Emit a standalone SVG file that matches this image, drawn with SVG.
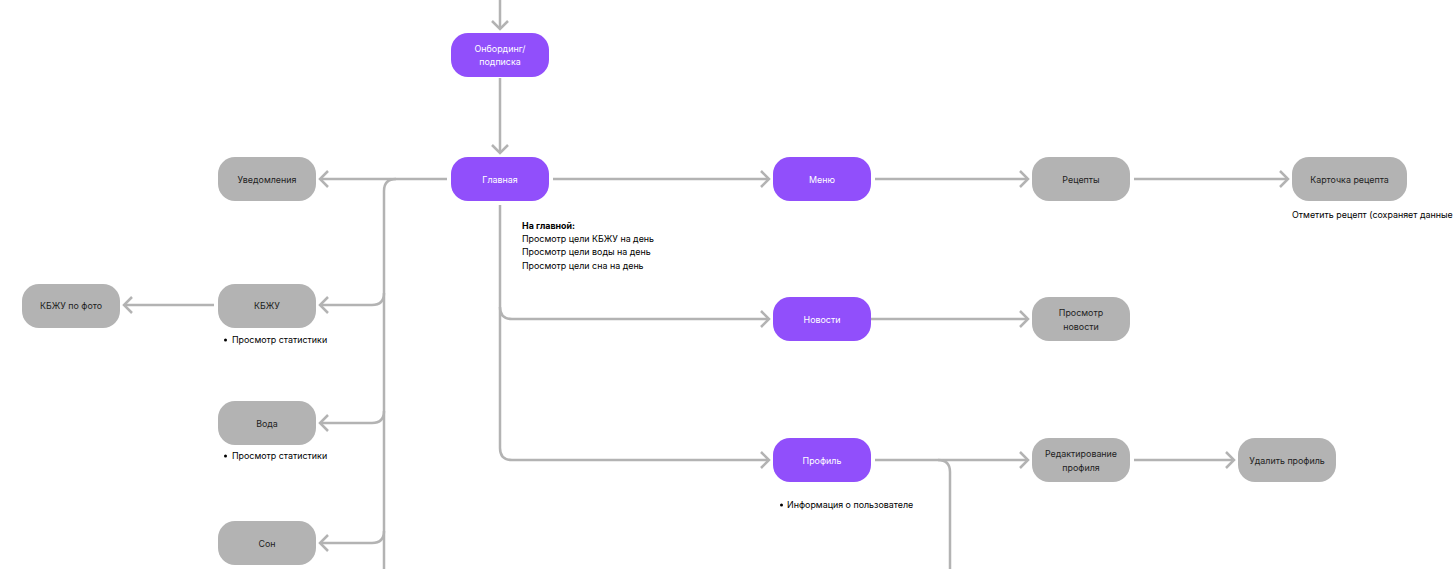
<svg xmlns="http://www.w3.org/2000/svg" width="1454" height="569" viewBox="0 0 1454 569">
<style>
.p rect{fill:#914ffb;}
.g rect{fill:#b3b3b3;}
text{font-family:Inter,"Noto Sans",sans-serif;font-size:8.9px;}
.p text{fill:#ffffff;text-anchor:middle;}
.g text{fill:#1e1e1e;text-anchor:middle;}
.c path{fill:none;stroke:#b3b3b3;stroke-width:2.5;}
.n{fill:#000000;}
.b{font-weight:bold;}
</style>
<defs>
<marker id="a" markerUnits="userSpaceOnUse" markerWidth="14" markerHeight="22" viewBox="0 0 14 22" refX="11" refY="11" orient="auto" overflow="visible">
<path d="M3,3 L11,11 L3,19" fill="none" stroke="#b3b3b3" stroke-width="2.5"/>
</marker>
</defs>
<rect width="1454" height="569" fill="#ffffff"/>
<g class="c" id="connectors">
<path d="M500,0 V29" marker-end="url(#a)"/>
<path d="M500,78 V153" marker-end="url(#a)"/>
<path d="M447,179 H320" marker-end="url(#a)"/>
<path d="M396,179 Q384,179 384,191 V569"/>
<path d="M384,293 Q384,305 372,305 H320" marker-end="url(#a)"/>
<path d="M384,411 Q384,423 372,423 H320" marker-end="url(#a)"/>
<path d="M384,531 Q384,543 372,543 H320" marker-end="url(#a)"/>
<path d="M214,305 H124" marker-end="url(#a)"/>
<path d="M553,179 H769" marker-end="url(#a)"/>
<path d="M500,205 V448 Q500,460 512,460 H769" marker-end="url(#a)"/>
<path d="M500,307 Q500,319 512,319 H769" marker-end="url(#a)"/>
<path d="M875,179 H1028" marker-end="url(#a)"/>
<path d="M1134,179 H1288" marker-end="url(#a)"/>
<path d="M871,319 H1028" marker-end="url(#a)"/>
<path d="M875,460 H1028" marker-end="url(#a)"/>
<path d="M938,460 Q950,460 950,472 V569"/>
<path d="M1134,460 H1234" marker-end="url(#a)"/>
</g>
<g id="onboarding" class="p"><rect x="451" y="33" width="98" height="44" rx="17"/><text x="500" y="52">Онбординг/</text><text x="500" y="65">подписка</text></g>
<g id="main" class="p"><rect x="451" y="157" width="98" height="44" rx="17"/><text x="500" y="182.5">Главная</text></g>
<g id="notifications" class="g"><rect x="218" y="157" width="98" height="44" rx="17"/><text x="267" y="182.5">Уведомления</text></g>
<g id="kbzhu" class="g"><rect x="218" y="284" width="98" height="44" rx="17"/><text x="267" y="308.5">КБЖУ</text></g>
<g id="kbzhu-photo" class="g"><rect x="22" y="284" width="98" height="44" rx="17"/><text x="71" y="308.5">КБЖУ по фото</text></g>
<g id="water" class="g"><rect x="218" y="401" width="98" height="44" rx="17"/><text x="267" y="426.5">Вода</text></g>
<g id="sleep" class="g"><rect x="218" y="521" width="98" height="44" rx="17"/><text x="267" y="546.5">Сон</text></g>
<g id="menu" class="p"><rect x="773" y="157" width="98" height="44" rx="17"/><text x="822" y="182.5">Меню</text></g>
<g id="recipes" class="g"><rect x="1032" y="157" width="98" height="44" rx="17"/><text x="1081" y="182.5">Рецепты</text></g>
<g id="recipe-card" class="g"><rect x="1292" y="157" width="115" height="44" rx="17"/><text x="1349.5" y="182.5">Карточка рецепта</text></g>
<g id="news" class="p"><rect x="773" y="297" width="98" height="44" rx="17"/><text x="822" y="322.5">Новости</text></g>
<g id="news-view" class="g"><rect x="1032" y="297" width="98" height="44" rx="17"/><text x="1081" y="316">Просмотр</text><text x="1081" y="329.5">новости</text></g>
<g id="profile" class="p"><rect x="773" y="438" width="98" height="44" rx="17"/><text x="822" y="463.5">Профиль</text></g>
<g id="profile-edit" class="g"><rect x="1032" y="438" width="98" height="44" rx="17"/><text x="1081" y="457">Редактирование</text><text x="1081" y="470.5">профиля</text></g>
<g id="profile-delete" class="g"><rect x="1238" y="438" width="98" height="44" rx="17"/><text x="1287" y="463.5">Удалить профиль</text></g>
<g id="notes">
<text class="n b" x="522" y="228.5">На главной:</text>
<text class="n" x="522" y="241.5">Просмотр цели КБЖУ на день</text>
<text class="n" x="522" y="255">Просмотр цели воды на день</text>
<text class="n" x="522" y="268.5">Просмотр цели сна на день</text>
<circle cx="225.5" cy="340" r="1.5" fill="#000"/>
<text class="n" x="232" y="343">Просмотр статистики</text>
<circle cx="225.5" cy="456" r="1.5" fill="#000"/>
<text class="n" x="232" y="459">Просмотр статистики</text>
<circle cx="781.5" cy="505" r="1.5" fill="#000"/>
<text class="n" x="787" y="508">Информация о пользователе</text>
<text class="n" x="1292" y="217.5">Отметить рецепт (сохраняет данные</text>
</g>
</svg>
